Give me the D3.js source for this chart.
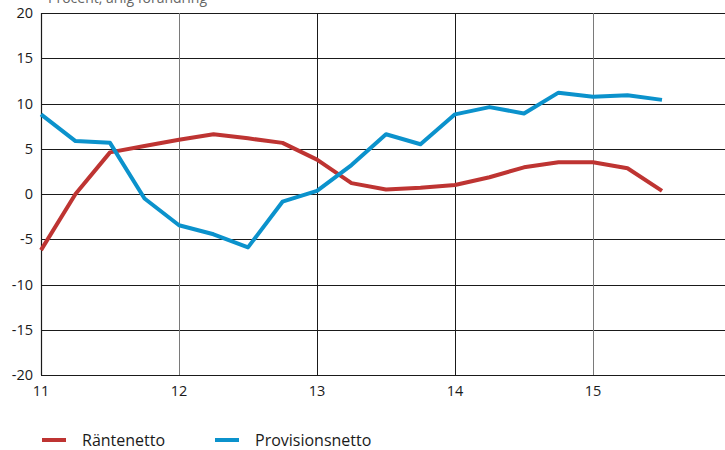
<!DOCTYPE html>
<html>
<head>
<meta charset="utf-8">
<script src="https://cdn.jsdelivr.net/npm/d3@7"></script>
<style>
  html, body { margin: 0; padding: 0; background: #fff; }
  svg { display: block; }
  text { font-family: "Open Sans", "Noto Sans", sans-serif; fill: #1a1a1a; }
</style>
</head>
<body>
<svg id="chart" width="725" height="450"></svg>
<script>
// Quarterly observations, year 2011 through mid-2015 (x = two-digit year)
const quarters = [11, 11.25, 11.5, 11.75, 12, 12.25, 12.5, 12.75, 13, 13.25, 13.5, 13.75, 14, 14.25, 14.5, 14.75, 15, 15.25, 15.5];
const rantenetto = [-6.2, 0.0, 4.6, 5.3, 6.0, 6.6, 6.15, 5.65, 3.8, 1.2, 0.5, 0.7, 1.0, 1.85, 2.95, 3.5, 3.5, 2.85, 0.35];
const provisionsnetto = [8.8, 5.85, 5.65, -0.5, -3.45, -4.45, -5.9, -0.85, 0.35, 3.2, 6.6, 5.5, 8.8, 9.6, 8.9, 11.2, 10.75, 10.9, 10.4];
const yTicks = [20, 15, 10, 5, 0, -5, -10, -15, -20];
const xTicks = [11, 12, 13, 14, 15];
const seriesNames = ["Räntenetto", "Provisionsnetto"];
const colors = ["#be3432", "#0b92cc"];
const unitLabel = "Procent, årlig förändring";

const svg = d3.select("#chart");
const plotLeft = 41, plotTop = 13, plotBottom = 375;

const x = d3.scaleLinear().domain([11, 16]).range([plotLeft, plotLeft + 138 * 5]);
const y = d3.scaleLinear().domain([-20, 20]).range([plotBottom, plotTop]);

// unit text, sitting above the plot at the top edge
svg.append("text").attr("x", 48).attr("y", 3)
  .style("font-size", "14px").style("fill", "#666").text(unitLabel);

// horizontal grid
svg.append("g").selectAll("line").data(yTicks).join("line")
  .attr("x1", plotLeft).attr("x2", 725)
  .attr("y1", d => Math.round(y(d)) + 0.5).attr("y2", d => Math.round(y(d)) + 0.5)
  .attr("stroke", "#1a1a1a").attr("stroke-width", 1);

// vertical grid at each year
const vGridColor = { 11: "#1a1a1a", 12: "#7a7a7a", 13: "#1a1a1a", 14: "#1a1a1a", 15: "#7a7a7a" };
svg.append("g").selectAll("line").data(xTicks).join("line")
  .attr("x1", d => Math.round(x(d)) + 0.5).attr("x2", d => Math.round(x(d)) + 0.5)
  .attr("y1", plotTop).attr("y2", plotBottom)
  .attr("stroke", d => vGridColor[d]).attr("stroke-width", d => d === 11 ? 1.2 : 1);

// y-axis labels
svg.append("g").selectAll("text").data(yTicks).join("text")
  .attr("x", 33).attr("y", d => y(d) + 5)
  .attr("text-anchor", "end").style("font-size", "14.5px")
  .text(d => d);

// x-axis labels
svg.append("g").selectAll("text").data(xTicks).join("text")
  .attr("x", d => x(d)).attr("y", 396)
  .attr("text-anchor", "middle").style("font-size", "14.5px")
  .text(d => d);

// series lines
const line = d3.line().x((d, i) => x(quarters[i])).y(d => y(d));
[rantenetto, provisionsnetto].forEach((vals, k) => {
  svg.append("path").datum(vals)
    .attr("d", line).attr("fill", "none")
    .attr("stroke", colors[k]).attr("stroke-width", 4)
    .attr("stroke-linejoin", "round");
});

// legend
const legendX = [42, 215];
seriesNames.forEach((name, k) => {
  const g = svg.append("g").attr("transform", `translate(${legendX[k]},440)`);
  g.append("line").attr("x1", 0).attr("x2", 24).attr("y1", 0).attr("y2", 0)
    .attr("stroke", colors[k]).attr("stroke-width", 4);
  g.append("text").attr("x", 40).attr("y", 6).style("font-size", "16px").text(name);
});
</script>
</body>
</html>
